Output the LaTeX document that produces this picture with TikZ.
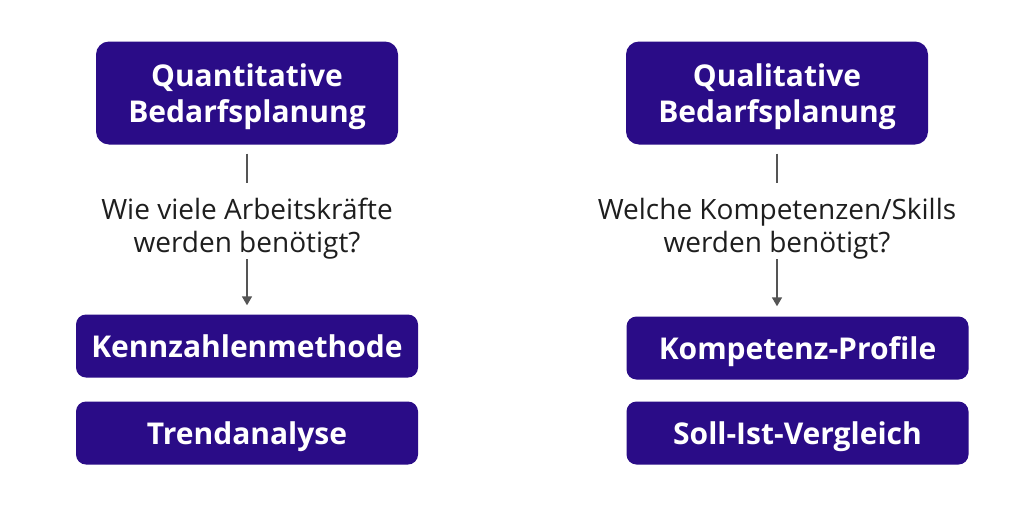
\documentclass[tikz,border=0pt]{standalone}
\usepackage{fontspec}
\setmainfont{Open Sans}
\usetikzlibrary{arrows.meta}
\definecolor{boxblue}{RGB}{42,12,135}
\definecolor{linegray}{RGB}{85,85,85}
\definecolor{txtgray}{RGB}{30,30,30}
\begin{document}
\begin{tikzpicture}[x=1pt,y=-1pt,
  topbox/.style={fill=boxblue, rounded corners=13pt, text=white, font=\fontsize{30}{36}\selectfont\bfseries, align=center, inner sep=0pt, minimum width=302pt, minimum height=103pt, text depth=0pt},
  methbox/.style={fill=boxblue, rounded corners=10pt, text=white, font=\fontsize{30}{35}\selectfont\bfseries, inner sep=0pt, minimum width=342pt, minimum height=63pt, text height=23pt, text depth=0pt},
  question/.style={text=txtgray, font=\fontsize{28}{33}\selectfont, align=center, inner sep=0pt},
  conn/.style={draw=linegray, line width=1.6pt},
]
\useasboundingbox (0,0) rectangle (1024,522);
\fill[white] (0,0) rectangle (1024,522);

\node[topbox] (qtop) at (247,93) {Quantitative\\Bedarfsplanung};
\node[topbox] (ltop) at (777,93) {Qualitative\\Bedarfsplanung};

\node[question] (qq) at (247,228.5) {Wie viele Arbeitskräfte\\werden benötigt?};
\node[question] (lq) at (777,228.5) {Welche Kompetenzen/Skills\\werden benötigt?};

\node[methbox] (k1) at (247,346) {Kennzahlenmethode};
\node[methbox] (k2) at (247,433) {Trendanalyse};
\node[methbox] (m1) at (797.5,348) {Kompetenz-Profile};
\node[methbox] (m2) at (797.5,433) {Soll-Ist-Vergleich};

\draw[conn, shorten <=9pt, shorten >=15pt] (qtop.south) -- (qq.north);
\draw[conn, shorten <=9pt, shorten >=15pt] (ltop.south) -- (lq.north);
\draw[conn, -{Triangle[length=9pt,width=10pt]}, shorten >=9pt] (qq.south) -- (k1.north -| qq.south);
\draw[conn, -{Triangle[length=9pt,width=10pt]}, shorten >=10pt] (lq.south) -- (m1.north -| lq.south);
\end{tikzpicture}
\end{document}
